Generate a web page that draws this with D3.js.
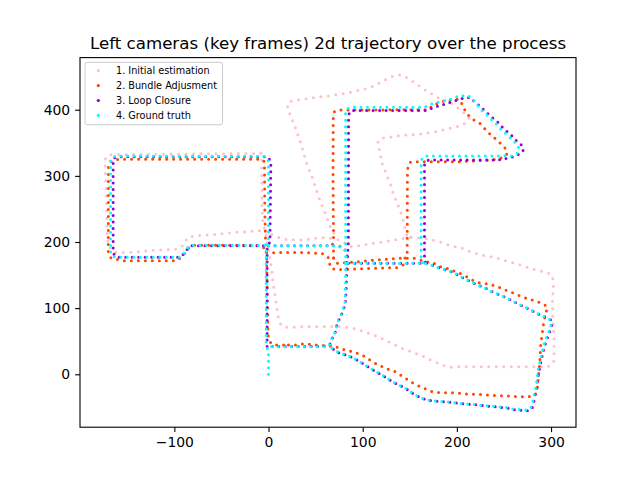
<!DOCTYPE html>
<html>
<head>
<meta charset="utf-8">
<style>
    body { margin: 0; background: #fff; }
    svg { display: block; }
</style>
<script src="https://d3js.org/d3.v7.min.js"></script>
</head>
<body>
<div id="chart"></div>
<script>
// series labels and colours, in drawing order
var seriesNames = ["1. Initial estimation", "2. Bundle Adjusment", "3. Loop Closure", "4. Ground truth"];
var seriesColors = ["#ffc0cb", "#ff4500", "#9400d3", "#00ffff"];
var xTicks = [-100, 0, 100, 200, 300];
var yTicks = [0, 100, 200, 300, 400];

// each series = list of trajectory pieces, each piece = [x, y] poses
var initialEstimation = [
    [[-8,334],[-100,333],[-168,332],[-172,330],[-173.5,324],[-173.5,316],[-173,300],[-172.5,275],[-172,250],[-171.5,215],[-170.5,198],[-168,190.5],[-165,185.3],[-158,183.8],[-149,184.4],[-138,185.3],[-129.4,186.4],[-120.5,188],[-111.7,188],[-101,189],[-94,190.5],[-88.6,198],[-86.8,205.6],[-81.5,208.1],[-76.2,209.6],[-65.6,210.6],[-55,211.7],[-44.4,213.1],[-33.7,214.6],[-23.1,215.5],[-16,216.6],[-8.8,217],[-3.5,216.6]],
    [[-8,334],[-6.5,328],[-7,315],[-7,253],[-6,233],[-4.6,222],[-2.5,210],[0,188],[2,170],[3.6,155],[4.7,137.6],[6.1,127.5],[7.1,117.4],[8.2,107.4],[8.9,99.8],[9.5,92.2],[10.6,84.7],[12.4,77.1],[14.2,73.1],[17.8,71.1],[26.6,71.1],[37.2,72.1],[55,72.1],[72.8,72.1],[83.4,71.1],[90.4,69.5],[101.1,64.4],[110,60.5],[117,55.9],[125.9,50.3],[134.8,44.3],[141.9,39.3],[148.9,35.7],[156,31.7],[163.1,27.7],[172,21.6],[179.1,17.5],[184.5,14.1],[191.5,10.6],[202.1,11.5],[250,11.5],[296.2,11.5],[300.4,14.1],[303.2,20.6],[303.2,51.9],[302.6,67],[301.8,82.1],[301.5,109.8],[302.6,135],[301.8,145.1],[299.7,151.6],[292.6,155.1],[283.7,157.7],[274.9,161.7],[267.8,165.2],[255.3,170.2],[246.5,173.8],[239.4,176.8],[233,178.8],[226,180.3],[219.9,182.9],[211.1,186.9],[205.8,190.5],[200.5,192],[195.1,194],[188,197],[180.9,200.5],[173.8,203],[168.5,204.6],[161.4,205.6],[156,207.1],[150.7,207.1]],
    [[-3.5,216.6],[5,210],[16,204],[34,203],[50,205.6],[62,207],[74.5,203],[80,199.5],[87,193],[96,194.4],[110,198],[128,201.5],[140,204.5],[150.7,207.1]],
    [[69.1,213.1],[65.6,223.1],[60.3,243.4],[55,260.9],[51.5,276],[46.2,298.7],[40.9,316.4],[37.2,334.1],[33.7,351.6],[30.2,366.7],[27.3,376.9],[24.9,385.9],[22.3,394.6],[20.2,404.5],[20.2,409.7],[24.9,413.2],[37.2,416.2],[47.9,418.1],[65.6,421.2],[81.6,424.8],[92.2,428.3],[106.4,432.4],[117,439.9],[126,446.4],[133,451.4],[140.1,452.5],[145.4,449.9],[154.3,441.5],[159.6,436.3],[164.9,431.3],[170.2,426.3],[175.5,422.2],[180.9,417.2],[186.2,414.7],[191.5,412.1],[196.8,407.1],[203.9,399.5],[209.3,393],[212.8,387],[211,381.9],[207.4,378.4],[200.4,374.4],[189.8,370.8],[182.7,368.3],[173.8,365.9],[166.7,364.4],[157.9,362.8],[148.9,361.8],[141.9,361.8],[131.3,359.2],[126,357.7],[120.6,356.8],[117,354.2],[116,350],[117,344.1],[118.8,331.5],[120.6,319],[124.1,306.4],[125.9,298.8],[129.4,288.7],[131.2,278.6],[133.7,268.5],[136.6,258.5],[139.4,248.5],[141.9,238.4],[143.6,228.3],[145.4,218.3],[147.2,208.1]]
];

var bundleAdjustment = [
    [[16,44.3],[7,44.3],[3,46],[0.5,52],[-0.5,60],[-1.5,120],[-2,180],[-3,190],[-4,250],[-4.3,318],[-5,323],[-8,325],[-160,325],[-166,323],[-170,318],[-170.2,185],[-168.5,178],[-166.5,175],[-161.3,173.8],[-154.3,171.7],[-97.4,171.7],[-93.9,175.4],[-90.4,180.3],[-86.8,187.9],[-83.3,194],[-80,195],[-11,195],[-6,193.5],[-4.5,190]],
    [[-2,184],[3,183.8],[33.7,184.4],[48.6,183],[56,182.9],[61,180.3],[64,175.4],[65,170],[65,164],[67,160.2],[72,158],[90,159.2],[115,160.2],[128,161.2],[136.6,161.2],[142,164.2],[145.4,167.8],[147,172]],
    [[69.1,176],[69,188],[67.5,195.5],[69,200],[69,220],[68.7,250],[68.5,300],[68.7,390],[69.5,396.5],[71.3,398.6],[73.8,399.5],[170,400],[173.8,406],[177.3,408.2],[182.7,411.2],[186.2,413.2],[193.3,414.7],[198.6,415.7],[202.1,416.2],[205,410],[207.4,402.1],[212.8,390.5],[218.1,384.4],[224.5,379.4],[228.7,372.8],[233,365.8],[237.7,360.7],[242.2,354.2],[248.3,346.6],[252.9,339.1],[252.9,332.6],[250,331.5],[246.5,326.5],[236,324],[222,323],[204,321.4],[152.6,321.4],[149.5,320],[148.5,316],[147.5,308],[147.2,180],[146.5,176.5],[144,175.4]],
    [[69.1,176],[70.9,170.2],[72.8,167.8],[88.7,169.3],[100,171],[115,172.8],[130,174.5],[140,175.4],[156,175.4],[161.4,172.8],[166.7,170.2],[173.8,169.3],[180,165],[182.7,162.7],[189.8,160.2],[193.3,157.7],[198.6,155.1],[207.4,150.1],[216.4,142.6],[223.4,138.5],[234,136.5],[243,132.5],[250,128.5],[262.4,121.4],[270.6,116.4],[277.7,113.4],[285.5,109.8],[292.6,105.8],[296.2,101.3],[294.4,92.2],[292.6,82.1],[290.9,64.4],[289,44.3],[288.3,24.2],[287.2,6.5],[286.2,-8.6],[285.5,-21.2],[283.7,-29.8],[281.3,-32.8],[274.9,-33.9],[266,-33.9],[257.1,-32.8],[243,-32.3],[232.3,-31.3],[223.4,-30.2],[214.6,-30.2],[202.1,-28.7],[193.3,-27.8],[182.7,-27.8],[175.5,-27.2],[171.3,-24.8],[164.9,-21.2],[159.6,-17.7],[152.6,-12.7],[145.4,-6],[140,-1],[134.8,3.9],[128.7,6.5],[120.6,11.5],[113.5,16.6],[106.4,22.7],[99.4,29.2],[88.7,34.2],[79.1,37.8],[72.8,40.8],[65.6,42.8],[51.5,44.3],[40.9,45.8],[33.7,45.8],[28.4,44.3],[16,44.3]]
];

var loopClosure = [
    [[-1.5,42],[-1.5,192],[1.5,200],[2.5,322],[-1,329],[-160,329],[-164,327],[-165,322],[-165,185],[-164.9,182.9],[-161.3,176.9],[-94,177],[-88,185],[-85,192.5],[-81,194.5],[0,194.5]],
    [[0,194.5],[72,194.5],[78,192.5],[82,187],[83.5,178],[83,168],[82.5,127],[81.5,107],[79.5,97],[76.5,87],[73,77],[71,64],[67.5,54],[65.5,46],[63,43],[58,42],[3,42],[-1.5,42]],
    [[83.5,168],[84.8,200],[85,390],[86,397],[89,399],[168,399],[175.5,403.6],[184.5,407.1],[193.3,411.2],[202.1,415.7],[209.3,418.1],[214.6,418.7],[218.8,412.1],[225.2,404.5],[230.5,397],[237.7,387.9],[243,381.9],[250,370.8],[257.1,362.8],[262.4,354.2],[269.6,345.6],[270.6,339.1],[267.8,334.1],[260.6,329],[253.6,326.5],[244,324],[170,324],[167,322],[165.6,316],[165.6,176],[166,170],[168,167.8]],
    [[85,167.8],[168,167.8],[176,164],[181,161],[186,158.7],[197,153.3],[205,147],[211,142.6],[218,137.6],[227,132],[233,128.5],[238,124.5],[252,116],[264,107.3],[275,99.8],[284,93],[293,87],[299,83.5],[301.5,78],[300,70],[297.5,60],[294.5,49],[292,36.7],[290,24],[287.5,6.5],[285.5,-11],[284.5,-21],[283,-31],[281.5,-44],[279.5,-53],[275,-55],[261,-53.5],[253.6,-51],[243,-49.5],[234,-48.2],[223.4,-46.7],[211,-45],[202,-44],[193.3,-42.5],[182.7,-41],[174,-40.4],[166.7,-38],[161.4,-35.4],[154.3,-30],[145.4,-21.2],[134.8,-13.6],[128.7,-8.6],[122.3,-2.6],[115.3,3],[108,9.1],[94,21.6],[85,27.7],[74.5,32.7],[67.4,39.3],[63,42]]
];

var groundTruth = [
    [[0,0],[0,30],[-1.5,40],[-2.5,46],[-2.5,192],[0,200],[0,322],[-3.5,329.5],[-162,330],[-166,328],[-167.7,323],[-167.7,185],[-166.5,180],[-163,177],[-158,176.9],[-94,176.9],[-88.6,185.3],[-85.1,192.9],[-81.5,195],[-3,195],[0,194.4]],
    [[0,194.4],[72,194.4],[78,192],[81.5,186],[82.5,178],[82,168],[81.6,127],[81,107],[79,97],[76.3,87],[72.8,77],[71,64.4],[67.4,54.4],[65.6,46],[63.5,42.5],[58,41.7],[3.6,41.7],[-1.5,42]],
    [[82,168],[81.8,250],[81.8,395],[83,401],[86,403.6],[165,403.6],[172,408.2],[182.7,412.1],[193.3,415.7],[202.1,421.2],[211,421.2],[216,418],[221,408.2],[225.2,400.6],[233,390.5],[241.2,379.4],[246.5,370.8],[252.9,362.8],[258.9,354.2],[264.9,346.6],[266,339],[263.5,333],[258,330],[168,330],[164,328],[162,323],[162,175],[163,170],[165,167.8]],
    [[84,167.8],[165,167.8],[170,166.5],[176,163.5],[181,160.5],[186,158.7],[197,153.6],[205,147],[211,142.6],[218,137.6],[227,132],[233,128.5],[238,124.5],[252,116],[264,107.3],[275,99.8],[284,93.1],[292.6,87.1],[298,84],[300.4,77],[299,69.5],[296.2,59.4],[293.3,49.3],[291,36.7],[289,24.2],[286.2,6.5],[284.8,-11.2],[283.7,-21.2],[282,-31.3],[280.2,-43.8],[277.7,-52.9],[273,-54],[260.6,-52.9],[253.6,-50.5],[243,-49],[234,-47.9],[223.4,-46.4],[211,-44.9],[202,-43.8],[193.3,-42.3],[182.7,-40.8],[174,-40.4],[166.7,-37.8],[161.4,-35.4],[154.3,-30],[145.4,-21.2],[134.8,-13.6],[128.7,-8.6],[122.3,-2.6],[115.3,3],[108,9.1],[94,21.6],[85,27.7],[74.5,32.7],[67.4,39.3],[63.5,42]]
];

var allSeries = [initialEstimation, bundleAdjustment, loopClosure, groundTruth];
var dotGaps = [7.5, 7, 6.5, 6.5];

var W = 640, H = 480;
var margin = { top: 57.6, right: 64, bottom: 52.8, left: 80 };
var width = W - margin.left - margin.right;
var height = H - margin.top - margin.bottom;

var svg = d3.select("#chart").append("svg")
    .attr("width", W)
    .attr("height", H)
    .style("font-family", "'DejaVu Sans', sans-serif");

var x = d3.scaleLinear().domain([-200.2, 326.5]).range([0, width]);
var y = d3.scaleLinear().domain([-80, 478.8]).range([height, 0]);

var g = svg.append("g")
    .attr("transform", "translate(" + margin.left + "," + margin.top + ")");

g.append("defs").append("clipPath").attr("id", "clip")
    .append("rect").attr("width", width).attr("height", height);

var line = d3.line()
    .x(function(d) { return x(d[0]); })
    .y(function(d) { return y(d[1]); });

var plot = g.append("g").attr("clip-path", "url(#clip)");

// poses drawn as round dots along each trajectory piece
allSeries.forEach(function(pieces, i) {
    plot.append("g").selectAll("path")
        .data(pieces)
        .enter().append("path")
        .attr("d", line)
        .attr("fill", "none")
        .attr("stroke", seriesColors[i])
        .attr("stroke-width", 3)
        .attr("stroke-linecap", "round")
        .attr("stroke-linejoin", "round")
        .attr("stroke-dasharray", "0 " + dotGaps[i]);
});

// axes
var xAxis = g.append("g")
    .attr("transform", "translate(0," + height + ")")
    .call(d3.axisBottom(x).tickValues(xTicks).tickSize(4.9).tickPadding(4.9).tickSizeOuter(0));
var yAxis = g.append("g")
    .call(d3.axisLeft(y).tickValues(yTicks).tickSize(4.9).tickPadding(4.9).tickSizeOuter(0));

[xAxis, yAxis].forEach(function(a) {
    a.select(".domain").remove();
    a.attr("font-family", "'DejaVu Sans', sans-serif").attr("font-size", 13.9);
    a.selectAll(".tick line").attr("stroke", "#000").attr("stroke-width", 1.1);
    a.selectAll(".tick text").attr("fill", "#000");
});

g.append("rect")
    .attr("width", width)
    .attr("height", height)
    .attr("fill", "none")
    .attr("stroke", "#000")
    .attr("stroke-width", 1.1);

// title
svg.append("text")
    .attr("x", margin.left + width / 2)
    .attr("y", 49.3)
    .attr("text-anchor", "middle")
    .attr("font-size", 16.67)
    .attr("fill", "#000")
    .text("Left cameras (key frames) 2d trajectory over the process");

// legend
var legend = svg.append("g").attr("transform", "translate(85,62.3)");
legend.append("rect")
    .attr("width", 137.5)
    .attr("height", 62.5)
    .attr("rx", 2.5)
    .attr("fill", "#fff")
    .attr("fill-opacity", 0.8)
    .attr("stroke", "#cccccc")
    .attr("stroke-width", 1);

var rows = legend.selectAll(".row")
    .data(seriesNames)
    .enter().append("g")
    .attr("class", "row")
    .attr("transform", function(d, i) { return "translate(0," + (8.4 + i * 14.9) + ")"; });

rows.append("circle")
    .attr("cx", 13.3)
    .attr("cy", 0)
    .attr("r", 1.6)
    .attr("fill", function(d, i) { return seriesColors[i]; });

rows.append("text")
    .attr("x", 31)
    .attr("y", 0)
    .attr("dy", "0.35em")
    .attr("font-size", 9.7)
    .attr("fill", "#000")
    .text(function(d) { return d; });
</script>
</body>
</html>
